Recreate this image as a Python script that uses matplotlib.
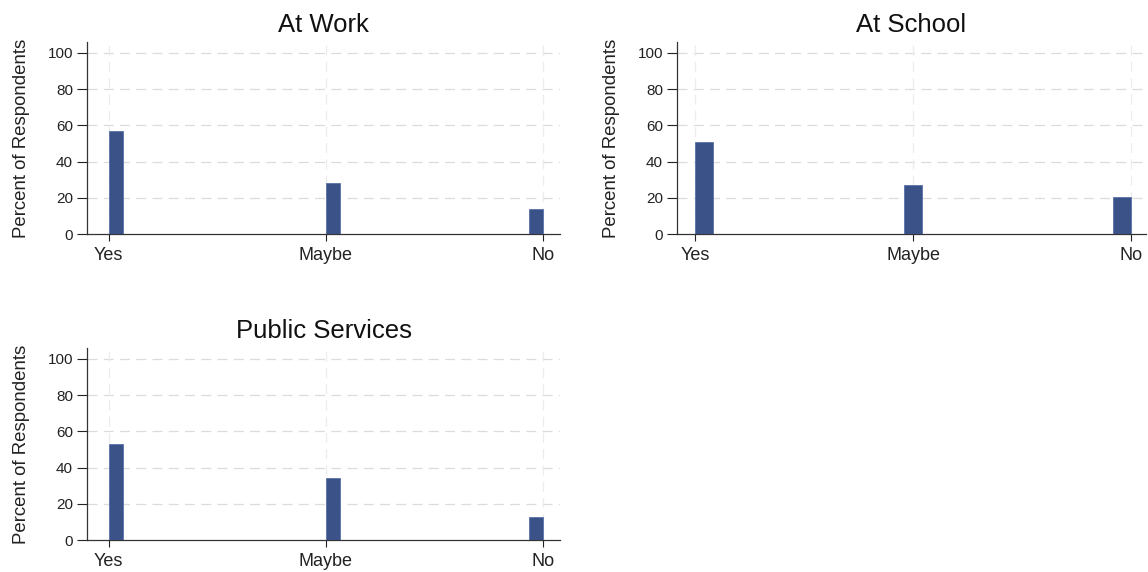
import numpy as np
import matplotlib
matplotlib.use("Agg")
import matplotlib.pyplot as plt

plt.rcParams['font.family'] = ['Liberation Sans', 'DejaVu Sans']

# data
answers = ['Yes', 'Maybe', 'No']
codes = [1, 2, 3]
work_pct = [56.6, 28.3, 13.7]
school_pct = [51.0, 27.3, 20.6]
public_pct = [52.9, 34.4, 12.6]
titles = ['At Work', 'At School', 'Public Services']
bin_counts = [30, 25, 30]

bar_color = '#3b5289'
grid_color = '#dcdcdc'

fig = plt.figure(figsize=(11.48, 5.72), dpi=100)

# axes rectangles in figure fraction (measured in pixels)
W, H = 1148, 572
rects = [
    (87 / W, 1 - 234 / H, 473 / W, 192 / H),
    (677 / W, 1 - 234 / H, 469 / W, 192 / H),
    (87 / W, 1 - 540 / H, 473 / W, 192 / H),
]
xlims = [(0.90, 3.077), (0.916, 3.07), (0.90, 3.077)]


def draw_panel(ax, pct, title, nbins, xlim):
    ax.hist(codes, bins=nbins, range=(1, 3), weights=pct,
            color=bar_color, edgecolor='#5a72a8', linewidth=0.6, zorder=3)
    ax.set_xlim(*xlim)
    ax.set_ylim(0, 106)
    ax.set_yticks(np.arange(0, 101, 20))
    ax.set_xticks(codes)
    ax.set_xticklabels(answers)
    for y in range(20, 101, 20):
        ax.axhline(y, color=grid_color, lw=0.9, ls=(0, (8, 5)), zorder=1)
    for x in codes:
        ax.axvline(x, color='#ececec', lw=0.9, ls=(0, (8, 5)), zorder=1)
    for s in ['top', 'right']:
        ax.spines[s].set_visible(False)
    for s in ['left', 'bottom']:
        ax.spines[s].set_color('#333333')
        ax.spines[s].set_linewidth(0.9)
    ax.tick_params(axis='x', labelsize=13, colors='#222222',
                   length=5, width=0.8, pad=4)
    ax.tick_params(axis='y', labelsize=11, colors='#222222',
                   length=7, width=0.8, pad=3)
    ax.set_ylabel('Percent of Respondents', fontsize=13.4, color='#222222',
                  labelpad=13)
    ax.set_title(title, fontsize=18.5, color='#111111', pad=7)


for rect, pct, title, nb, xl in zip(rects, [work_pct, school_pct, public_pct],
                                    titles, bin_counts, xlims):
    ax = fig.add_axes(rect)
    draw_panel(ax, pct, title, nb, xl)

fig.savefig('out.png', dpi=100, facecolor='white')
